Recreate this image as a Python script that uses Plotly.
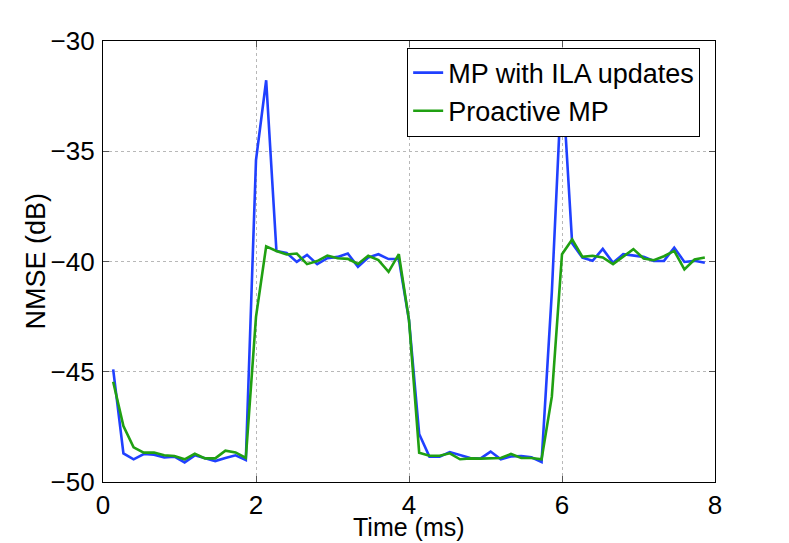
import plotly.graph_objects as go

time_ms = [0.133, 0.267, 0.4, 0.533, 0.667, 0.8, 0.933, 1.067, 1.2, 1.333,
           1.467, 1.6, 1.733, 1.867, 2.0, 2.133, 2.267, 2.4, 2.533, 2.667,
           2.8, 2.933, 3.067, 3.2, 3.333, 3.467, 3.6, 3.733, 3.867, 4.0,
           4.133, 4.267, 4.4, 4.533, 4.667, 4.8, 4.933, 5.067, 5.2, 5.333,
           5.467, 5.6, 5.733, 5.867, 6.0, 6.133, 6.267, 6.4, 6.533, 6.667,
           6.8, 6.933, 7.067, 7.2, 7.333, 7.467, 7.6, 7.733, 7.867]

mp_ila = [-44.89, -48.70, -48.97, -48.73, -48.76, -48.89, -48.85, -49.11, -48.79, -48.93,
          -49.05, -48.91, -48.79, -49.00, -35.40, -31.78, -39.52, -39.61, -40.02, -39.70,
          -40.12, -39.85, -39.79, -39.64, -40.24, -39.82, -39.67, -39.89, -39.89, -42.66,
          -47.82, -48.85, -48.85, -48.64, -48.79, -48.91, -48.94, -48.62, -48.97, -48.84,
          -48.82, -48.88, -49.09, -41.40, -31.50, -39.18, -39.83, -39.97, -39.43, -40.06,
          -39.67, -39.74, -39.79, -39.98, -39.97, -39.37, -40.02, -39.97, -40.06]

proactive = [-45.45, -47.46, -48.43, -48.67, -48.66, -48.79, -48.82, -48.97, -48.72, -48.93,
             -48.93, -48.58, -48.66, -48.91, -42.51, -39.31, -39.52, -39.68, -39.64, -40.12,
             -39.98, -39.73, -39.85, -39.88, -40.11, -39.74, -39.94, -40.47, -39.67, -42.66,
             -48.67, -48.81, -48.81, -48.70, -48.97, -48.93, -48.94, -48.91, -48.91, -48.73,
             -48.91, -48.91, -48.97, -46.13, -39.67, -39.00, -39.79, -39.74, -39.82, -40.12,
             -39.79, -39.44, -39.86, -39.94, -39.76, -39.52, -40.36, -39.91, -39.82]

series_names = ["MP with ILA updates", "Proactive MP"]
x_ticks = [0, 2, 4, 6, 8]
y_ticks = [-50, -45, -40, -35, -30]
x_title = "Time (ms)"
y_title = "NMSE (dB)"

FONT = "Liberation Sans, Arial, Helvetica, sans-serif"

fig = go.Figure()
fig.add_trace(go.Scatter(x=time_ms, y=mp_ila, mode="lines", name=series_names[0],
                         line=dict(color="#2040ff", width=2.6)))
fig.add_trace(go.Scatter(x=time_ms, y=proactive, mode="lines", name=series_names[1],
                         line=dict(color="#20a012", width=2.6)))

axis_common = dict(
    showline=True, linecolor="black", linewidth=1.2, mirror="ticks",
    ticks="inside", ticklen=6, tickcolor="#555555", tickwidth=1.2,
    showgrid=True, gridcolor="#b8b8b8", griddash="dot", gridwidth=1,
    zeroline=False, automargin=False,
    tickfont=dict(family=FONT, size=26, color="black"),
)

# page body has an 8px default margin, so the figure is sized/offset to compensate
fig.update_layout(
    width=781, height=535,
    margin=dict(l=95, r=74, t=33, b=61),
    paper_bgcolor="white", plot_bgcolor="white",
    font=dict(family=FONT, color="black"),
    xaxis=dict(range=[0, 8], tickvals=x_ticks, **axis_common),
    yaxis=dict(range=[-50, -30], tickvals=y_ticks, ticklabelstandoff=2, **axis_common),
    legend=dict(x=0.497, y=0.985, xanchor="left", yanchor="top",
                bgcolor="white", bordercolor="black", borderwidth=1,
                font=dict(family=FONT, size=27), tracegroupgap=0,
                itemwidth=30),
    showlegend=True,
    annotations=[
        dict(text=x_title, xref="paper", yref="paper", x=0.5, y=0,
             xanchor="center", yanchor="middle", yshift=-45, showarrow=False,
             font=dict(family=FONT, size=25, color="black")),
        dict(text=y_title, xref="paper", yref="paper", x=0, y=0.5,
             xanchor="center", yanchor="middle", xshift=-68, textangle=-90,
             showarrow=False, font=dict(family=FONT, size=27, color="black")),
    ],
)

fig.write_html("out.html")
